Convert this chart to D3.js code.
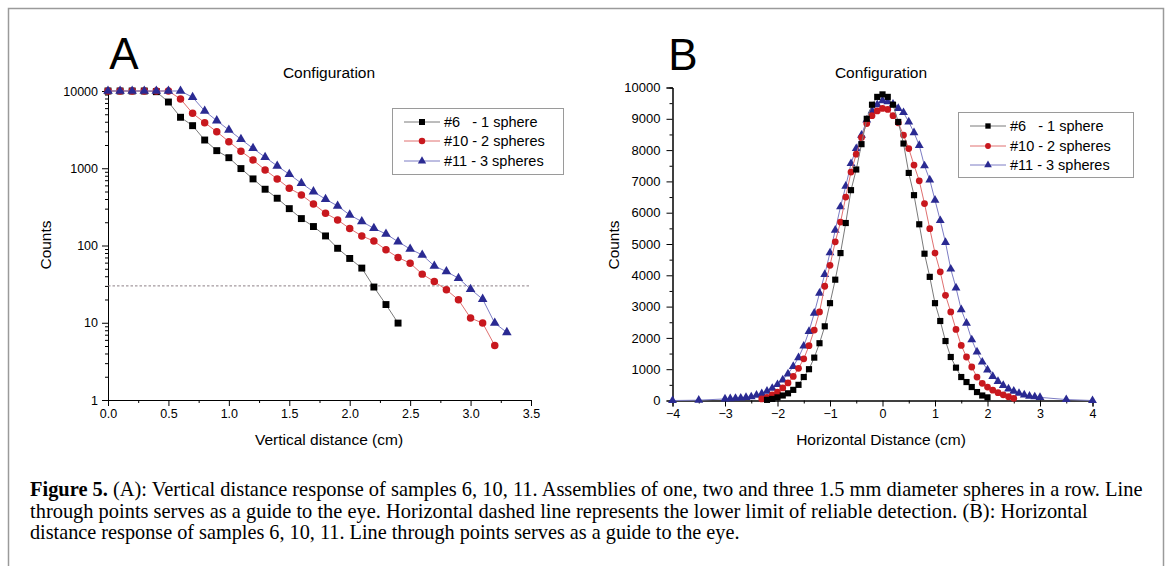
<!DOCTYPE html>
<html><head><meta charset="utf-8">
<script src="https://cdn.jsdelivr.net/npm/d3@7"></script>
<style>body{margin:0;background:#fff} svg{display:block}</style>
</head><body>
<svg id="c" width="1171" height="566"></svg>
<script>
// ---------- data ----------
const seriesNames = ["#6   - 1 sphere", "#10 - 2 spheres", "#11 - 3 spheres"];

// Panel A: vertical distance (cm) vs counts (log)
const vertX6 = d3.range(0, 25).map(i => i / 10);
const vertY6 = [10000,10000,10000,10000,9800,7200,4570,3560,2320,1690,1370,990,728,535,409,300,223,176,133,92,68,51,29,17.2,9.9];
const vertX10 = d3.range(0, 33).map(i => i / 10);
const vertY10 = [10000,10000,10000,10000,10000,10000,7880,5140,3890,2970,2210,1660,1280,950,728,551,452,345,262,214,166,133,114,88,70,59,42.6,34.1,26.7,19.8,11.5,9.9,5.07];
const vertX11 = d3.range(0, 34).map(i => i / 10);
const vertY11 = [10000,10000,10000,10000,10000,10000,10000,8290,5510,4130,3130,2370,1810,1390,1070,836,640,498,397,325,249,204,167,141,112,90,75.5,54.4,46,37.7,27.2,20.2,9.9,7.5];
const detectionLimit = 30;
const vertTicks = [0, 0.5, 1.0, 1.5, 2.0, 2.5, 3.0, 3.5];
const logTicks = [1, 10, 100, 1000, 10000];

// Panel B: horizontal distance (cm) vs counts
const horizX6 = d3.range(-22, 21).map(i => i / 10);
const horizY6 = [20,50,100,160,230,340,500,750,1000,1370,1830,2370,3110,3860,4710,5670,6720,7380,8190,9000,9450,9700,9780,9700,9450,8900,8210,7270,6560,5630,4690,3950,3110,2540,1900,1390,1050,750,590,430,270,160,100];
const horizX10 = d3.range(-23, 26).map(i => i / 10);
const horizY10 = [50,100,180,270,400,560,770,1030,1330,1750,2250,2830,3650,4320,5070,5700,6500,7300,7870,8400,8850,9100,9250,9330,9300,9100,8870,8480,8050,7520,7020,6290,5490,4710,4110,3360,2830,2270,1760,1390,1070,750,550,430,330,250,180,120,70];
const horizX11 = [-4, -3.5].concat(d3.range(-30, 31).map(i => i / 10), [3.5, 4]);
const horizY11 = [0,10,50,60,70,80,100,120,170,220,300,390,510,660,850,1090,1370,1740,2210,2790,3430,4030,4720,5440,6190,6850,7570,8050,8480,8960,9250,9450,9580,9550,9470,9330,9200,8900,8560,8150,7500,7050,6400,5750,5050,4200,3600,2900,2470,1940,1550,1230,980,770,610,480,370,300,230,180,140,120,100,30,0];
const horizTicks = [-4,-3,-2,-1,0,1,2,3,4];
const countTicks = d3.range(0, 10001, 1000);

const captionLines = [
  ["Figure 5.", " (A): Vertical distance response of samples 6, 10, 11. Assemblies of one, two and three 1.5 mm diameter spheres in a row. Line"],
  ["", "through points serves as a guide to the eye. Horizontal dashed line represents the lower limit of reliable detection. (B): Horizontal"],
  ["", "distance response of samples 6, 10, 11. Line through points serves as a guide to the eye."]
];

// ---------- styles ----------
const markerCol = ["#000000", "#c8181e", "#2a2a92"];
const lineCol = ["#7a7a7a", "#e07070", "#7c7cc4"];
const symTypes = [d3.symbolSquare, d3.symbolCircle, d3.symbolTriangle];
const FONT = "'Liberation Sans', Arial, sans-serif";

const svg = d3.select("#c");
svg.append("rect").attr("width", 1171).attr("height", 566).attr("fill", "#fff");
// outer frame
svg.append("path").attr("d", "M8.5,566 V8.5 H1163.5 V566").attr("fill", "none").attr("stroke", "#9a9a9a").attr("stroke-width", 1.5);

function styleAxis(g, fs) {
  g.select(".domain").attr("stroke", "#000").attr("stroke-width", 1);
  g.selectAll(".tick line").attr("stroke", "#000").attr("stroke-width", 1);
  g.selectAll(".tick text").attr("font-family", FONT).attr("font-size", fs || 12.5).attr("fill", "#000");
}

function drawSeries(g, xs, ys, x, y, i, size) {
  const pts = xs.map((v, k) => [v, ys[k]]);
  g.append("path").datum(pts)
    .attr("d", d3.line().x(d => x(d[0])).y(d => y(d[1])))
    .attr("fill", "none").attr("stroke", lineCol[i]).attr("stroke-width", 1);
  g.selectAll(null).data(pts).enter().append("path")
    .attr("transform", d => `translate(${x(d[0])},${y(d[1])})`)
    .attr("d", d3.symbol().type(symTypes[i]).size(size[i]))
    .attr("fill", markerCol[i]);
}

function legend(g, x0, y0, w, h, rows, size) {
  g.append("rect").attr("x", x0 + 0.5).attr("y", y0 + 0.5).attr("width", w).attr("height", h)
    .attr("fill", "#fff").attr("stroke", "#9a9a9a").attr("stroke-width", 1);
  seriesNames.forEach((name, i) => {
    const yy = rows[i];
    g.append("line").attr("x1", x0 + 12).attr("x2", x0 + 48).attr("y1", yy).attr("y2", yy)
      .attr("stroke", lineCol[i]).attr("stroke-width", 1);
    g.append("path").attr("transform", `translate(${x0 + 30},${yy})`)
      .attr("d", d3.symbol().type(symTypes[i]).size(size[i] * 0.75)).attr("fill", markerCol[i]);
    g.append("text").attr("x", x0 + 52).attr("y", yy + 5).attr("font-family", FONT).attr("font-size", 14.5)
      .style("white-space", "pre").text(name);
  });
}

// ---------- Panel A ----------
{
  const g = svg.append("g");
  const x = d3.scaleLinear().domain([0, 3.5]).range([108, 531]);
  const y = d3.scaleLog().domain([1, 10000]).range([400, 91]);
  const minor = [];
  [1, 10, 100, 1000].forEach(d => { for (let k = 2; k <= 9; k++) minor.push(d * k); });
  g.append("g").attr("transform", "translate(108,0)")
    .call(d3.axisLeft(y).tickValues(minor).tickSize(3).tickFormat("")).call(styleAxis);
  g.append("g").attr("transform", "translate(108,0)")
    .call(d3.axisLeft(y).tickValues(logTicks).tickSize(6).tickPadding(4).tickFormat(d3.format("d"))).call(g2 => styleAxis(g2, 12.5));
  g.append("g").attr("transform", "translate(0,400)")
    .call(d3.axisBottom(x).tickValues(d3.range(0.25, 3.5, 0.5)).tickSize(3).tickFormat("")).call(styleAxis);
  g.append("g").attr("transform", "translate(0,400)")
    .call(d3.axisBottom(x).tickValues(vertTicks).tickSize(6).tickPadding(3).tickFormat(d3.format(".1f"))).call(g2 => styleAxis(g2, 12.5));

  g.append("line").attr("x1", x(0)).attr("x2", x(3.5)).attr("y1", y(detectionLimit)).attr("y2", y(detectionLimit))
    .attr("stroke", "#8c7f86").attr("stroke-width", 1).attr("stroke-dasharray", "2.5,2");

  const sizeA = [48, 44, 40];
  drawSeries(g, vertX6, vertY6, x, y, 0, sizeA);
  drawSeries(g, vertX10, vertY10, x, y, 1, sizeA);
  drawSeries(g, vertX11, vertY11, x, y, 2, sizeA);

  g.append("text").attr("x", 124).attr("y", 69).attr("text-anchor", "middle").attr("font-family", FONT).attr("font-size", 44).text("A");
  g.append("text").attr("x", 329).attr("y", 78).attr("text-anchor", "middle").attr("font-family", FONT).attr("font-size", 15.5).text("Configuration");
  g.append("text").attr("x", 329).attr("y", 445).attr("text-anchor", "middle").attr("font-family", FONT).attr("font-size", 15.5).text("Vertical distance (cm)");
  g.append("text").attr("transform", "translate(51,245) rotate(-90)").attr("text-anchor", "middle").attr("font-family", FONT).attr("font-size", 15.5).text("Counts");
  legend(g, 392, 108, 171, 66, [122, 141, 161], sizeA);
}

// ---------- Panel B ----------
{
  const g = svg.append("g");
  const x = d3.scaleLinear().domain([-4, 4]).range([672.5, 1092.5]);
  const y = d3.scaleLinear().domain([0, 10000]).range([400.5, 87.5]);
  g.append("g").attr("transform", "translate(672.5,0)")
    .call(d3.axisLeft(y).tickValues(d3.range(500, 10000, 1000)).tickSize(3).tickFormat("")).call(styleAxis);
  g.append("g").attr("transform", "translate(672.5,0)")
    .call(d3.axisLeft(y).tickValues(countTicks).tickSize(6).tickPadding(6).tickFormat(d3.format("d"))).call(g2 => styleAxis(g2, 13));
  g.append("g").attr("transform", "translate(0,400.5)")
    .call(d3.axisBottom(x).tickValues(d3.range(-3.5, 4, 1)).tickSize(3).tickFormat("")).call(styleAxis);
  g.append("g").attr("transform", "translate(0,400.5)")
    .call(d3.axisBottom(x).tickValues(horizTicks).tickSize(6).tickPadding(3).tickFormat(d3.format("d"))).call(g2 => styleAxis(g2, 12.5));

  const sizeB = [38, 36, 34];
  drawSeries(g, horizX11, horizY11, x, y, 2, sizeB);
  drawSeries(g, horizX10, horizY10, x, y, 1, sizeB);
  drawSeries(g, horizX6, horizY6, x, y, 0, sizeB);

  g.append("text").attr("x", 683).attr("y", 70).attr("text-anchor", "middle").attr("font-family", FONT).attr("font-size", 44).text("B");
  g.append("text").attr("x", 881).attr("y", 78).attr("text-anchor", "middle").attr("font-family", FONT).attr("font-size", 15.5).text("Configuration");
  g.append("text").attr("x", 881).attr("y", 445).attr("text-anchor", "middle").attr("font-family", FONT).attr("font-size", 15.5).text("Horizontal Distance (cm)");
  g.append("text").attr("transform", "translate(619,245) rotate(-90)").attr("text-anchor", "middle").attr("font-family", FONT).attr("font-size", 15.5).text("Counts");
  legend(g, 958, 112, 175, 65, [126, 146, 165], sizeB);
}

// ---------- caption ----------
const capTargets = [1113, 1058, 710];
const capBase = [496, 518, 539];
captionLines.forEach((ln, i) => {
  const gg = svg.append("g").attr("transform", `translate(30,${capBase[i]})`);
  const t = gg.append("text").attr("x", 0).attr("y", 0).attr("font-family", "'Liberation Serif', 'Times New Roman', serif").attr("font-size", 20.5).style("white-space", "pre");
  if (ln[0]) t.append("tspan").attr("font-weight", "bold").text(ln[0]);
  t.append("tspan").text(ln[1]);
  const len = t.node().getComputedTextLength();
  gg.attr("transform", `translate(30,${capBase[i]}) scale(${capTargets[i] / len},1)`);
});
</script>
</body></html>
